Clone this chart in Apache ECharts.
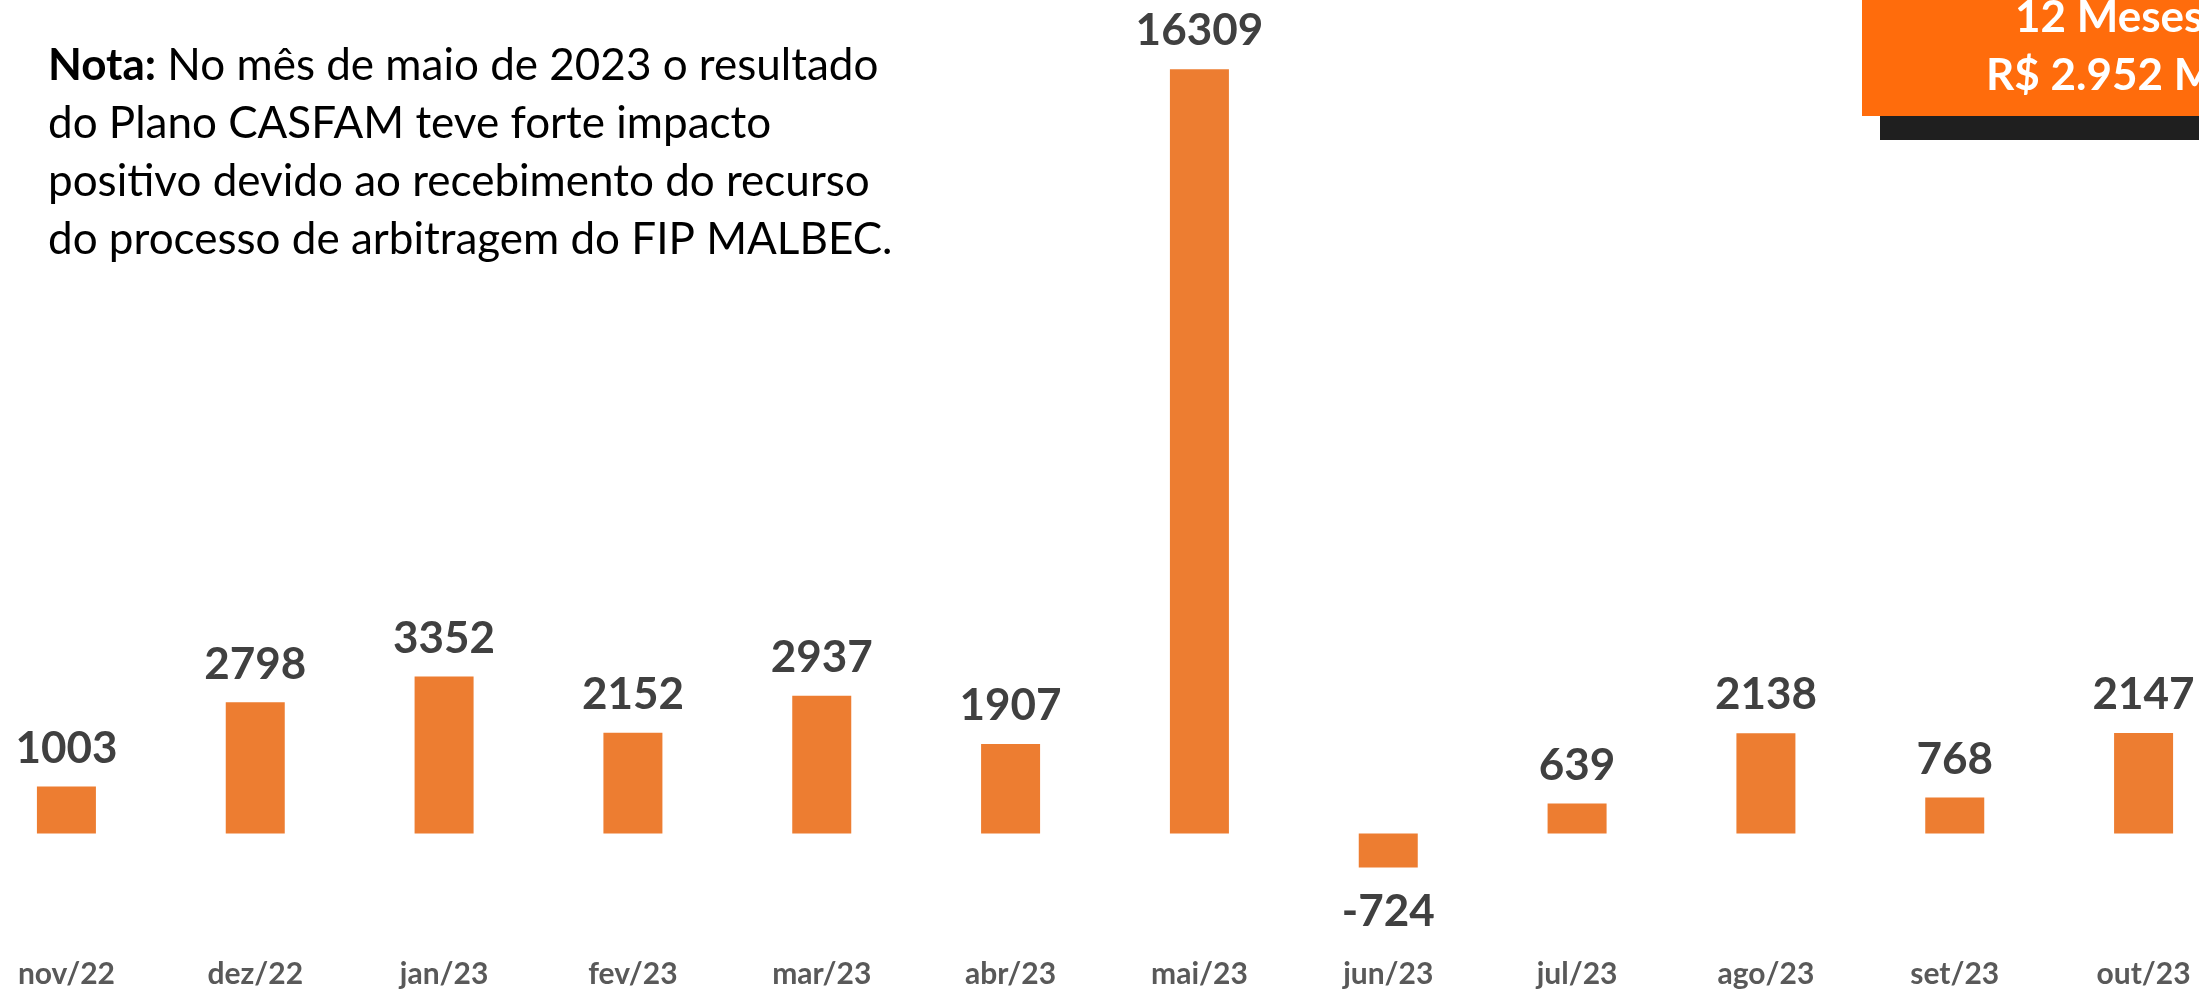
<!DOCTYPE html>
<html>
<head>
<meta charset="utf-8">
<script src="https://cdn.jsdelivr.net/npm/echarts@6/dist/echarts.min.js"></script>
<style>
    html, body { margin: 0; padding: 0; background: #fff; overflow: hidden; width: 2199px; height: 993px; position: relative; }
    /* o gráfico original está cortado nas bordas, por isso o div é mais largo que a janela */
    #main { position: absolute; left: -28px; top: 0; width: 2266px; height: 993px; }
</style>
</head>
<body>
<div id="main"></div>
<script type="text/javascript">
    // dados do gráfico (R$ mil)
    var meses = ['nov/22', 'dez/22', 'jan/23', 'fev/23', 'mar/23', 'abr/23', 'mai/23', 'jun/23', 'jul/23', 'ago/23', 'set/23', 'out/23'];
    var resultado = [1003, 2798, 3352, 2152, 2937, 1907, 16309, -724, 639, 2138, 768, 2147];
    var notaLinhas = [
        'No mês de maio de 2023 o resultado',
        'do Plano CASFAM teve forte impacto',
        'positivo devido ao recebimento do recurso',
        'do processo de arbitragem do FIP MALBEC.'
    ];
    var caixaTexto = ['12 Meses', 'R$ 2.952 M'];

    var fonte = 'Lato, "Open Sans", sans-serif';
    var dx = 28; // deslocamento do div
    var myChart = echarts.init(document.getElementById('main'));

    myChart.setOption({
        animation: false,
        grid: {
            left: 0,
            right: 0,
            top: 13.5,
            bottom: 37.7,
            containLabel: false
        },
        xAxis: {
            type: 'category',
            data: meses,
            axisLine: { show: false, onZero: false },
            axisTick: { show: false },
            axisLabel: {
                margin: 4,
                color: '#595959',
                fontFamily: fonte,
                fontWeight: 'bold',
                fontSize: 30
            }
        },
        yAxis: {
            type: 'value',
            min: -2600,
            max: 17500,
            show: false,
            splitLine: { show: false }
        },
        series: [{
            type: 'bar',
            barWidth: 59,
            itemStyle: { color: '#ED7D31' },
            data: resultado.map(function (v) {
                return {
                    value: v,
                    label: v < 0 ? { position: 'bottom', distance: 22 } : { position: 'top', distance: 16 }
                };
            }),
            label: {
                show: true,
                color: '#404040',
                fontFamily: fonte,
                fontWeight: 'bold',
                fontSize: 44,
                lineHeight: 44
            }
        }],
        graphic: [
            {
                type: 'text',
                left: 48 + dx,
                top: 37,
                style: {
                    text: '{b|Nota:} ' + notaLinhas.join('\n'),
                    fill: '#000',
                    fontFamily: fonte,
                    fontSize: 44,
                    lineHeight: 58,
                    rich: {
                        b: { fontWeight: 'bold', fontFamily: fonte, fontSize: 44, lineHeight: 58 }
                    }
                }
            },
            {
                type: 'rect',
                shape: { x: 1880 + dx, y: 0, width: 400, height: 140 },
                style: { fill: '#1F1F1F' }
            },
            {
                type: 'rect',
                shape: { x: 1862 + dx, y: 0, width: 400, height: 116 },
                style: { fill: '#FF6C0C' }
            },
            {
                type: 'text',
                x: 2015 + dx,
                y: 18,
                style: {
                    text: caixaTexto[0],
                    fill: '#fff',
                    fontFamily: fonte,
                    fontWeight: 'bold',
                    fontSize: 44,
                    verticalAlign: 'middle'
                }
            },
            {
                type: 'text',
                x: 1986 + dx,
                y: 76,
                style: {
                    text: caixaTexto[1],
                    fill: '#fff',
                    fontFamily: fonte,
                    fontWeight: 'bold',
                    fontSize: 44,
                    verticalAlign: 'middle'
                }
            }
        ]
    });
</script>
</body>
</html>
